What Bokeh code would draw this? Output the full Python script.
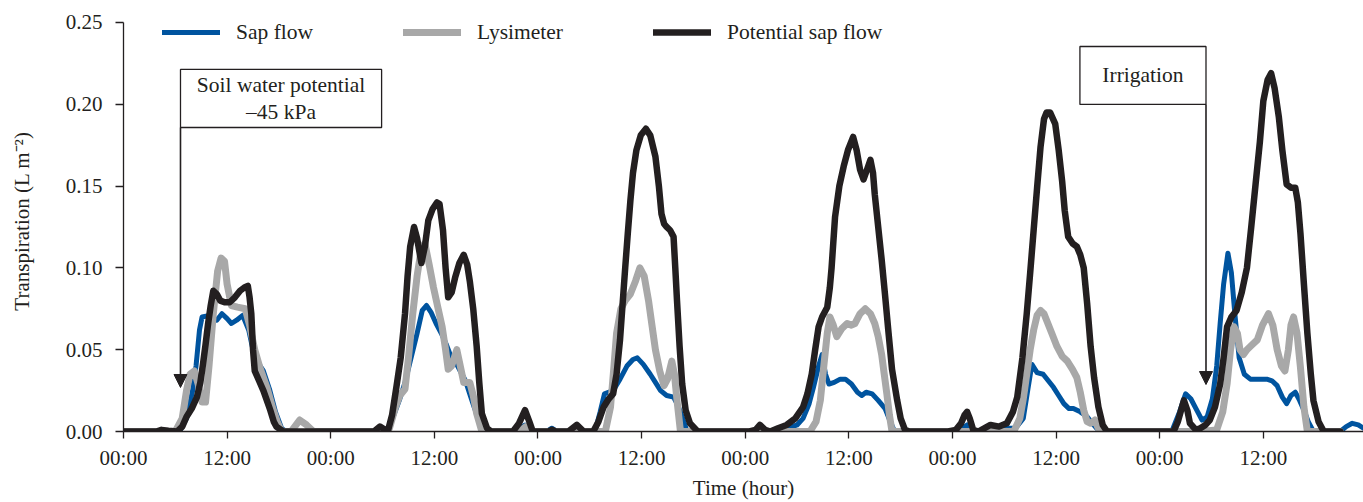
from bokeh.plotting import figure
from bokeh.models import (Range1d, FixedTicker, NumeralTickFormatter, Legend, LegendItem,
                          Arrow, NormalHead)
from bokeh.embed import file_html
from bokeh.resources import INLINE
from bokeh.core.properties import value

# ---------------- data (hours since start, transpiration L m-2) ----------------
sap_h = [0, 4.0, 4.5, 5.0, 6.5, 7.3, 8.0, 8.4, 8.8, 9.1, 10.0, 10.8, 11.4, 12.0, 12.5, 13.1, 13.8, 14.5, 15.2, 16.2, 16.9, 17.6, 18.3, 18.8,
         29.2, 29.7, 30.5, 31.3, 32.0, 32.6, 33.3, 34.0, 34.6, 35.1, 35.6, 36.2, 36.8, 37.4, 37.9, 38.5, 39.0, 39.6, 40.1, 40.6, 41.1, 41.6, 42.1,
         45.5, 46.5, 47.4, 49.0, 49.6, 50.2,
         52.0, 52.5, 53.0, 54.6, 55.2, 55.7, 56.7, 57.5, 58.3, 59.0, 59.5, 60.2, 61.0, 61.6, 62.2, 62.9, 63.7, 64.2, 64.7, 65.2, 65.6,
         73.2, 73.7, 74.3, 76.5, 78.0, 78.7, 79.4, 79.9, 80.5, 80.9, 81.3, 81.7, 82.3, 83.0, 83.6, 84.3, 85.0, 85.5, 86.0, 86.7, 87.4, 88.2, 88.8, 89.3,
         96.0, 97.0, 97.7, 98.4, 100.0, 102.0, 103.3, 104.2, 104.8, 105.2, 105.8, 106.5, 107.1, 107.7, 108.3, 108.9, 109.5, 110.0, 110.8, 111.6, 112.2, 112.7, 113.2,
         121.4, 122.3, 123.0, 123.6, 124.2, 124.9, 125.5, 126.1, 126.6, 127.0, 127.4, 127.9, 128.3, 128.7, 129.2, 129.8, 130.5, 131.5, 132.4, 133.0, 133.6,
         134.2, 134.7, 135.2, 135.7, 136.2, 136.7, 137.2, 137.8, 140.9, 141.6, 142.3, 143.0, 143.6]
sap_v = [0, 0, 0.001, 0, 0, 0.008, 0.025, 0.040, 0.062, 0.070, 0.071, 0.068, 0.072, 0.069, 0.066, 0.068, 0.071, 0.062, 0.045, 0.037, 0.026, 0.012, 0.002, 0,
         0, 0.002, 0, 0.010, 0.020, 0.030, 0.045, 0.060, 0.074, 0.077, 0.073, 0.066, 0.060, 0.053, 0.046, 0.042, 0.037, 0.031, 0.023, 0.015, 0.008, 0.002, 0,
         0, 0.004, 0, 0, 0.002, 0,
         0, 0.002, 0, 0, 0.012, 0.023, 0.025, 0.032, 0.040, 0.044, 0.045, 0.041, 0.035, 0.030, 0.025, 0.022, 0.021, 0.016, 0.009, 0.001, 0,
         0, 0.002, 0, 0.001, 0.004, 0.008, 0.017, 0.027, 0.040, 0.047, 0.035, 0.029, 0.030, 0.032, 0.032, 0.029, 0.024, 0.022, 0.024, 0.023, 0.019, 0.014, 0.006, 0,
         0, 0.001, 0.004, 0, 0.001, 0.002, 0.002, 0.008, 0.028, 0.041, 0.036, 0.035, 0.031, 0.027, 0.022, 0.017, 0.014, 0.014, 0.012, 0.009, 0.005, 0.002, 0,
         0, 0.012, 0.023, 0.020, 0.014, 0.007, 0.009, 0.020, 0.040, 0.066, 0.090, 0.109, 0.097, 0.072, 0.045, 0.035, 0.032, 0.032, 0.032, 0.031, 0.028,
         0.021, 0.017, 0.022, 0.024, 0.019, 0.013, 0.006, 0, 0, 0.003, 0.005, 0.004, 0.002]

lys_h = [0, 6.0, 6.8, 7.3, 7.7, 8.2, 8.7, 9.1, 9.5, 9.9, 10.4, 10.9, 11.3, 11.7, 12.0, 12.5, 13.2, 14.1, 14.6, 15.2, 15.8, 16.6, 17.3, 17.8, 18.3,
         19.4, 20.4, 21.2, 22.0,
         29.8, 30.8, 31.5, 32.0, 32.6, 33.0, 33.5, 34.0, 34.5, 34.9, 35.4, 35.9, 36.4, 36.9, 37.3, 37.6, 38.0, 38.6, 39.0, 39.4, 40.1, 40.5, 40.9, 41.5,
         45.8, 46.6, 47.3,
         55.8, 56.4, 56.8, 57.1, 57.6, 58.1, 58.7, 59.3, 59.8, 60.3, 60.8, 61.2, 61.6, 62.1, 62.6, 63.0, 63.5, 63.8, 64.1, 64.5,
         79.5, 80.2, 80.7, 81.1, 81.5, 81.8, 82.2, 82.6, 83.2, 83.8, 84.3, 84.7, 85.3, 85.9, 86.5, 87.0, 87.4, 87.8, 88.1, 88.4, 88.7, 89.0,
         103.1, 103.8, 104.2, 104.6, 105.0, 105.4, 105.8, 106.2, 106.6, 106.9, 107.5, 108.1, 108.7, 109.3, 109.9, 110.4, 110.8, 111.2, 111.6, 112.0, 112.5, 112.8, 113.1,
         124.7, 126.6, 127.3, 127.8, 128.2, 128.6, 129.0, 129.3, 129.7, 130.1, 130.7, 131.3, 131.9, 132.6, 133.1, 133.6, 134.1, 134.5, 134.9, 135.2, 135.5, 135.9,
         136.3, 136.7, 137.1, 140.9]
lys_v = [0, 0, 0.008, 0.025, 0.035, 0.037, 0.028, 0.018, 0.018, 0.040, 0.072, 0.098, 0.106, 0.104, 0.090, 0.077, 0.076, 0.075, 0.065, 0.050, 0.039, 0.027, 0.014, 0.006, 0,
         0, 0.007, 0.004, 0,
         0, 0.002, 0.015, 0.022, 0.026, 0.045, 0.072, 0.095, 0.112, 0.115, 0.102, 0.088, 0.076, 0.064, 0.050, 0.038, 0.040, 0.050, 0.040, 0.030, 0.030, 0.022, 0.011, 0,
         0, 0.003, 0,
         0, 0.015, 0.040, 0.060, 0.075, 0.080, 0.084, 0.092, 0.100, 0.095, 0.080, 0.065, 0.050, 0.037, 0.028, 0.032, 0.043, 0.035, 0.019, 0,
         0, 0.006, 0.019, 0.040, 0.060, 0.070, 0.065, 0.058, 0.063, 0.066, 0.065, 0.066, 0.072, 0.075, 0.072, 0.066, 0.058, 0.047, 0.035, 0.023, 0.010, 0,
         0, 0.008, 0.020, 0.035, 0.050, 0.062, 0.071, 0.074, 0.072, 0.068, 0.060, 0.052, 0.046, 0.043, 0.038, 0.033, 0.024, 0.013, 0.006, 0.005, 0.007, 0.003, 0,
         0, 0.001, 0.012, 0.029, 0.050, 0.064, 0.060, 0.050, 0.047, 0.050, 0.053, 0.056, 0.065, 0.072, 0.065, 0.050, 0.040, 0.037, 0.050, 0.065, 0.070, 0.060,
         0.039, 0.015, 0, 0]

pot_h = [0, 3.8, 4.4, 5.2, 6.2, 6.8, 7.3, 7.9, 8.5, 8.9, 9.2, 9.5, 9.8, 10.1, 10.4, 10.8, 11.2, 11.7, 12.3, 12.9, 13.5, 14.0, 14.4, 14.6, 14.8, 15.0,
         15.2, 15.7, 16.2, 16.6, 17.0, 17.4, 17.7, 18.5,
         29.0, 29.7, 30.6, 31.1, 31.6, 32.1, 32.6, 32.9, 33.2, 33.65, 34.0, 34.5, 34.9, 35.3, 35.8, 36.3, 36.6, 37.0, 37.3, 37.6, 38.0, 38.4, 38.9, 39.4,
         39.8, 40.1, 40.5, 40.9, 41.2, 41.5, 42.1, 42.6, 45.1, 45.8, 46.5, 47.0, 47.4, 49.2, 49.6, 50.1,
         51.5, 52.5, 53.3, 54.4, 55.0, 55.6, 56.2, 56.7, 57.1, 57.5, 57.8, 58.1, 58.4, 58.7, 59.0, 59.4, 59.9, 60.5, 61.0, 61.6, 62.0, 62.3, 62.6, 62.9,
         63.3, 63.7, 63.9, 64.1, 64.4, 64.7, 65.1, 65.6, 66.5,
         72.5, 73.2, 73.7, 74.3, 74.9, 75.8, 76.8, 77.8, 78.7, 79.2, 79.7, 80.1, 80.5, 80.9, 81.5, 81.8, 82.0, 82.4, 82.9, 83.4, 83.9, 84.5, 84.9, 85.3,
         85.7, 86.1, 86.5, 86.8, 87.0, 87.4, 87.8, 88.2, 88.6, 89.0, 89.6, 90.0, 90.5, 91.0,
         95.5, 96.4, 97.0, 97.4, 97.7, 98.0, 98.4, 99.0, 100.4, 101.4, 102.3, 103.0, 103.5, 104.1, 104.6, 105.0, 105.4, 105.8, 106.2, 106.6, 106.9, 107.3,
         107.9, 108.3, 108.7, 109.0, 109.4, 109.9, 110.4, 110.8, 111.2, 111.6, 112.0, 112.4, 112.9, 113.4, 113.9,
         120.5, 121.6, 122.1, 122.8, 123.2, 123.5, 124.2, 124.7, 125.3, 125.8, 126.4, 127.0, 127.4, 127.8, 128.3, 128.9, 129.5, 130.1, 130.6, 131.1,
         131.6, 132.0, 132.5, 132.9, 133.3, 133.8, 134.2, 134.7, 135.2, 135.7, 136.0, 136.3, 136.7, 137.1, 137.5, 137.8, 138.4, 139.0, 140.9]
pot_v = [0, 0, 0.001, 0.0005, 0, 0.003, 0.009, 0.014, 0.021, 0.030, 0.041, 0.053, 0.066, 0.077, 0.086, 0.084, 0.080, 0.079, 0.079, 0.082, 0.086, 0.088, 0.089, 0.082, 0.072, 0.050,
         0.037, 0.031, 0.025, 0.019, 0.013, 0.006, 0.003, 0,
         0, 0.003, 0, 0.010, 0.027, 0.045, 0.072, 0.095, 0.113, 0.125, 0.118, 0.103, 0.113, 0.129, 0.136, 0.140, 0.139, 0.123, 0.100, 0.082, 0.085, 0.094, 0.103, 0.108,
         0.102, 0.092, 0.075, 0.052, 0.030, 0.011, 0.002, 0, 0, 0.005, 0.013, 0.006, 0, 0, 0.001, 0,
         0, 0.004, 0, 0, 0.006, 0.015, 0.020, 0.023, 0.035, 0.056, 0.078, 0.100, 0.121, 0.141, 0.158, 0.172, 0.181, 0.185, 0.181, 0.168, 0.150, 0.133, 0.127, 0.125,
         0.123, 0.119, 0.100, 0.080, 0.052, 0.029, 0.013, 0.005, 0,
         0, 0.001, 0.004, 0.001, 0, 0.002, 0.004, 0.008, 0.015, 0.023, 0.035, 0.050, 0.064, 0.070, 0.076, 0.088, 0.100, 0.131, 0.150, 0.162, 0.172, 0.180, 0.172, 0.160,
         0.154, 0.160, 0.166, 0.158, 0.145, 0.125, 0.105, 0.083, 0.060, 0.038, 0.019, 0.008, 0.001, 0,
         0, 0.001, 0.005, 0.010, 0.012, 0.008, 0.001, 0, 0.004, 0.003, 0.005, 0.012, 0.021, 0.045, 0.072, 0.097, 0.123, 0.149, 0.174, 0.191, 0.195, 0.195,
         0.188, 0.172, 0.153, 0.135, 0.119, 0.115, 0.113, 0.108, 0.100, 0.078, 0.052, 0.033, 0.015, 0.004, 0,
         0, 0, 0.006, 0.019, 0.013, 0.005, 0.001, 0.002, 0.004, 0.007, 0.015, 0.029, 0.045, 0.064, 0.070, 0.074, 0.085, 0.100, 0.125, 0.151,
         0.177, 0.202, 0.215, 0.219, 0.210, 0.192, 0.172, 0.151, 0.149, 0.149, 0.140, 0.121, 0.090, 0.060, 0.035, 0.019, 0.006, 0, 0]

x_ticks = [0, 12, 24, 36, 48, 60, 72, 84, 96, 108, 120, 132]
x_tick_labels = ["00:00", "12:00", "00:00", "12:00", "00:00", "12:00", "00:00", "12:00", "00:00", "12:00", "00:00", "12:00"]
y_ticks = [0, 0.05, 0.10, 0.15, 0.20, 0.25]

series_names = ["Sap flow", "Lysimeter", "Potential sap flow"]

# annotations (event time in hours, box extents)
note_texts = [["Soil water potential", "\u201345 kPa"], ["Irrigation"]]
note_arrow_x = [6.6, 125.36]
note_arrow_tip = [0.0269, 0.0287]
note_box_left = [6.6, 110.76]
note_box_right = [29.89, 125.36]
note_box_top = [0.2213, 0.2353]
note_box_bottom = [0.1858, 0.1999]

# ---------------- styling ----------------
FONT = "Liberation Serif"
INK = "#231F20"
BLUE = "#00549F"
GRAY = "#A8A8A8"

# frame extends a little above 0.25 so the legend text fits inside it;
# the y axis line itself is bounded to 0..0.25
p = figure(width=1363, height=502, output_backend="svg", toolbar_location=None,
           x_range=Range1d(0, 143.6), y_range=Range1d(0, 0.2573),
           min_border_left=123, min_border_right=0, min_border_top=10, min_border_bottom=71)
p.outline_line_color = None
p.grid.visible = False
p.background_fill_color = "white"

r_sap = p.line(sap_h, sap_v, line_color=BLUE, line_width=5, line_join="round", line_cap="round")
r_lys = p.line(lys_h, lys_v, line_color=GRAY, line_width=7, line_join="round", line_cap="round")
r_pot = p.line(pot_h, pot_v, line_color=INK, line_width=6.5, line_join="round", line_cap="round")

# annotation boxes
p.quad(left=note_box_left, right=note_box_right, top=note_box_top, bottom=note_box_bottom,
       fill_color="white", line_color=INK, line_width=1.3)
tx, ty, tt = [], [], []
for i, lines in enumerate(note_texts):
    cx = (note_box_left[i] + note_box_right[i]) / 2
    cy = (note_box_top[i] + note_box_bottom[i]) / 2
    n = len(lines)
    step = 0.0165
    for j, t in enumerate(lines):
        tx.append(cx)
        ty.append(cy + (n - 1) / 2 * step - j * step)
        tt.append(t)
p.text(x=tx, y=ty, text=tt, text_align="center", text_baseline="middle",
       text_font=value(FONT), text_font_size="21.5px", text_color=INK)
for i in range(2):
    p.add_layout(Arrow(end=NormalHead(size=13, fill_color=INK, line_color=INK),
                       x_start=note_arrow_x[i], y_start=note_box_bottom[i],
                       x_end=note_arrow_x[i], y_end=note_arrow_tip[i],
                       line_color=INK, line_width=1.6))

# axes
for ax in (p.xaxis, p.yaxis):
    ax.axis_line_color = INK
    ax.axis_line_width = 1.3
    ax.major_tick_line_color = INK
    ax.major_tick_line_width = 1.3
    ax.major_tick_in = 0
    ax.minor_tick_line_color = None
    ax.major_label_text_font = FONT
    ax.major_label_text_font_size = "21px"
    ax.major_label_text_color = INK
    ax.axis_label_text_font = FONT
    ax.axis_label_text_font_size = "21px"
    ax.axis_label_text_font_style = "normal"
    ax.axis_label_text_color = INK

p.xaxis.ticker = FixedTicker(ticks=x_ticks)
p.xaxis.major_label_overrides = {t: l for t, l in zip(x_ticks, x_tick_labels)}
p.xaxis.major_tick_out = 7
p.xaxis.major_label_standoff = 7
p.xaxis.axis_label = "Time (hour)"
p.xaxis.axis_label_standoff = 3

p.yaxis.ticker = FixedTicker(ticks=y_ticks)
p.yaxis.bounds = (0, 0.25)
p.yaxis.formatter = NumeralTickFormatter(format="0.00")
p.yaxis.major_tick_out = 8
p.yaxis.major_label_standoff = 13
p.yaxis.axis_label = "Transpiration (L m\u207b\u00b2)"
p.yaxis.axis_label_standoff = 29

legend = Legend(items=[LegendItem(label=series_names[0], renderers=[r_sap]),
                       LegendItem(label=series_names[1], renderers=[r_lys]),
                       LegendItem(label=series_names[2], renderers=[r_pot])],
                orientation="horizontal", location=(39, 386),
                glyph_width=58, glyph_height=26, label_height=26, label_standoff=16, spacing=90,
                padding=0, margin=0, border_line_alpha=0, background_fill_alpha=0,
                label_text_font=FONT, label_text_font_size="21.5px", label_text_color=INK)
p.add_layout(legend)

open("out.html", "w").write(file_html(p, INLINE))
